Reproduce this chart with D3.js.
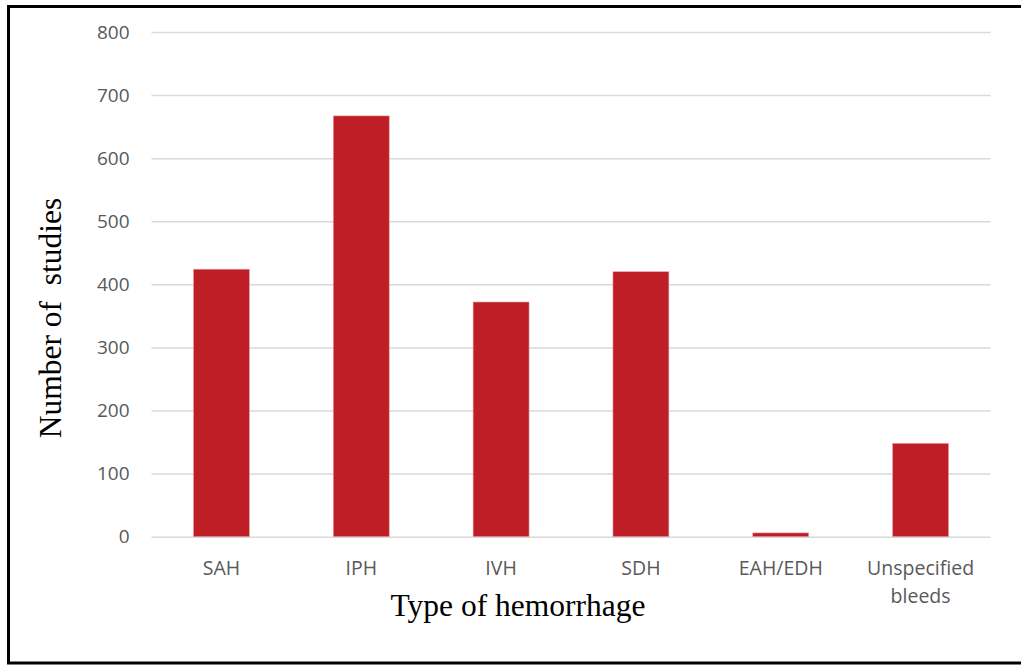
<!DOCTYPE html>
<html><head><meta charset="utf-8">
<script src="https://cdn.jsdelivr.net/npm/d3@7"></script>
<style>body{margin:0;background:#fff}svg{display:block}</style>
</head><body>
<svg id="c" width="1021" height="666"></svg>
<script>
const categories = ["SAH", "IPH", "IVH", "SDH", "EAH/EDH", "Unspecified bleeds"];
const values = [424, 667, 372, 420, 6, 148];
const yTicks = [0, 100, 200, 300, 400, 500, 600, 700, 800];

(function () {
const svg = d3.select("#c");
const mLeft = 151.5, mRight = 990.5, mTop = 32, mBottom = 536.7;

svg.append("rect").attr("x", 8.5).attr("y", 6.5).attr("width", 1040).attr("height", 656.5)
  .attr("fill", "none").attr("stroke", "#000").attr("stroke-width", 3);

const x = d3.scaleBand().domain(categories).range([mLeft, mRight]).paddingInner(0.6).paddingOuter(0.3);
const y = d3.scaleLinear().domain([0, 800]).range([mBottom, mTop]);

const ga = svg.append("g").attr("transform", `translate(${mLeft},0)`)
  .call(d3.axisLeft(y).tickValues(yTicks).tickSize(-(mRight - mLeft)).tickPadding(22));
ga.select(".domain").remove();
ga.selectAll(".tick line").attr("stroke", "#d9d9d9").attr("stroke-width", 1.5);
ga.selectAll(".tick text").attr("fill", "#595959").attr("font-family", "'Open Sans', sans-serif").attr("font-size", 19);

svg.append("g").selectAll("rect").data(values).join("rect")
  .attr("x", (d, i) => x(categories[i]))
  .attr("width", x.bandwidth())
  .attr("y", d => y(d))
  .attr("height", d => y(0) - y(d))
  .attr("fill", "#be1e25")
  .attr("stroke", "#e8a0a2").attr("stroke-width", 0.6);

const gx = svg.append("g").attr("transform", `translate(0,${mBottom})`)
  .call(d3.axisBottom(x).tickSize(0).tickPadding(0));
gx.select(".domain").remove();
gx.selectAll(".tick text").each(function(d) {
  const t = d3.select(this).text("");
  t.attr("fill", "#595959").attr("font-family", "'Open Sans', sans-serif").attr("font-size", 19.5).attr("dy", null).attr("y", 38);
  const words = d === "Unspecified bleeds" ? ["Unspecified", "bleeds"] : [d];
  words.forEach((w, k) => t.append("tspan").attr("x", 0).attr("dy", k === 0 ? 0 : 28).text(w));
});

svg.append("text").attr("x", 518).attr("y", 616).attr("text-anchor", "middle")
  .attr("font-family", "'Liberation Serif', 'Times New Roman', serif").attr("font-size", 31.5).attr("fill", "#000")
  .text("Type of hemorrhage");
svg.append("text").attr("transform", "translate(61,318) rotate(-90)").attr("text-anchor", "middle")
  .attr("font-family", "'Liberation Serif', 'Times New Roman', serif").attr("font-size", 31.5).attr("fill", "#000")
  .attr("xml:space", "preserve").style("white-space", "pre")
  .text("Number of  studies");
})();
</script>
</body></html>
